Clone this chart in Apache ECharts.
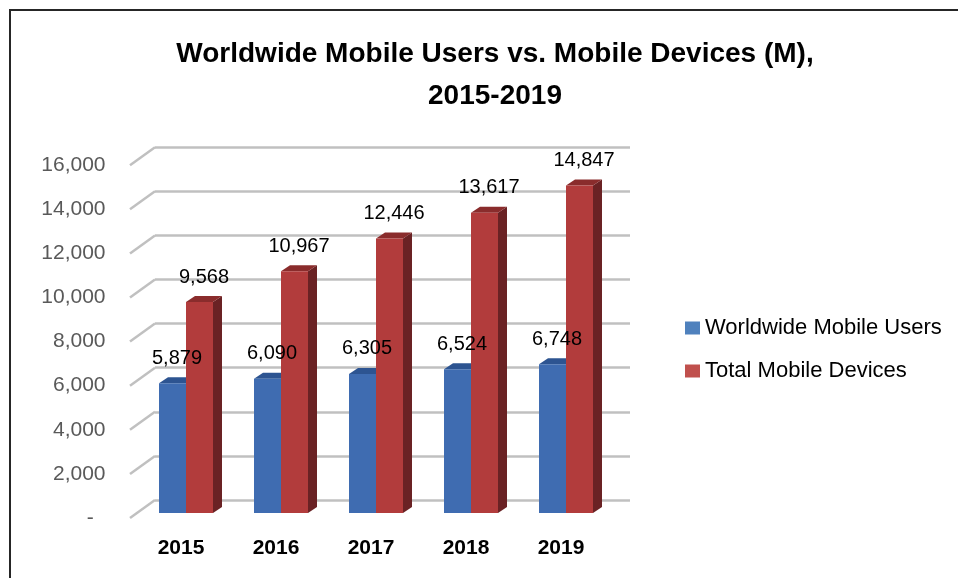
<!DOCTYPE html>
<html>
<head>
<meta charset="utf-8">
<script src="https://cdn.jsdelivr.net/npm/echarts@6/dist/echarts.min.js"></script>
<style>
  html, body { margin: 0; padding: 0; background: #fff; }
  #chart { width: 958px; height: 578px; }
</style>
</head>
<body>
<div id="chart"></div>
<script>
const years = ['2015', '2016', '2017', '2018', '2019'];
const usersValues = [5879, 6090, 6305, 6524, 6748];
const devicesValues = [9568, 10967, 12446, 13617, 14847];
const yTicks = [0, 2000, 4000, 6000, 8000, 10000, 12000, 14000, 16000];
const seriesNames = ['Worldwide Mobile Users', 'Total Mobile Devices'];

const BAR_W = 27;
const DEPTH_X = 9;
const DEPTH_Y = 6;
const FLOOR_DX = 25;
const FLOOR_DY = 18;

const faceColors = [
  { front: '#3f6cb1', top: '#2d5491', side: '#27467a' },
  { front: '#b23c3c', top: '#8a2c2c', side: '#6a2224' }
];

const fmt = (v) => v === 0 ? '-  ' : v.toLocaleString('en-US');

const chart = echarts.init(document.getElementById('chart'));

function barRender(sIdx) {
  return function (params, api) {
    const i = api.value(0);
    const v = api.value(1);
    const base = api.coord([i, 0]);
    const top = api.coord([i, v]);
    const x0 = base[0] + (sIdx === 0 ? -BAR_W : 0);
    const by = base[1], ty = top[1];
    const c = faceColors[sIdx];
    return {
      type: 'group',
      children: [
        { type: 'polygon', shape: { points: [[x0 + BAR_W, ty], [x0 + BAR_W + DEPTH_X, ty - DEPTH_Y], [x0 + BAR_W + DEPTH_X, by - DEPTH_Y], [x0 + BAR_W, by]] }, style: { fill: c.side } },
        { type: 'polygon', shape: { points: [[x0, ty], [x0 + BAR_W, ty], [x0 + BAR_W + DEPTH_X, ty - DEPTH_Y], [x0 + DEPTH_X, ty - DEPTH_Y]] }, style: { fill: c.top } },
        { type: 'rect', shape: { x: x0, y: ty, width: BAR_W, height: by - ty }, style: { fill: c.front } }
      ]
    };
  };
}

function labelRender(sIdx) {
  return function (params, api) {
    const i = api.value(0);
    const v = api.value(1);
    const base = api.coord([i, 0]);
    const top = api.coord([i, v]);
    const x0 = base[0] + (sIdx === 0 ? -BAR_W : 0);
    return {
      type: 'text',
      x: x0 + BAR_W / 2 + DEPTH_X / 2,
      y: top[1] - 25,
      style: {
        text: fmt(v),
        fill: '#000',
        font: '20px "Liberation Sans"',
        align: 'center',
        verticalAlign: 'middle'
      }
    };
  };
}

const option = {
  backgroundColor: '#fff',
  animation: false,
  title: {
    text: 'Worldwide Mobile Users vs. Mobile Devices (M),\n2015-2019',
    left: 490,
    textAlign: 'center',
    top: 28,
    textStyle: {
      fontFamily: 'Liberation Sans',
      fontWeight: 'bold',
      fontSize: 28,
      lineHeight: 42,
      color: '#000'
    }
  },
  legend: {
    orient: 'vertical',
    left: 680,
    top: 312,
    itemWidth: 15,
    itemHeight: 13,
    itemGap: 21,
    itemSpacing: 6,
    icon: 'rect',
    data: seriesNames,
    textStyle: { fontFamily: 'Liberation Sans', fontSize: 22, color: '#000' }
  },
  graphic: [
    { type: 'rect', shape: { x: 10, y: 10, width: 1000, height: 1000 }, style: { fill: 'none', stroke: '#262626', lineWidth: 2 }, z: 100 }
  ],
  grid: [
    { left: 155, right: 328, top: 147.2, bottom: 78 },
    { left: 133.5, width: 475, top: 165.2, bottom: 60 },
    { left: 138.5, width: 475, top: 160.2, bottom: 65 }
  ],
  xAxis: [
    { gridIndex: 0, type: 'value', min: 0, max: 1, show: false },
    {
      gridIndex: 1, type: 'category', data: years,
      axisLine: { show: false }, axisTick: { show: false },
      axisLabel: { margin: 20, fontFamily: 'Liberation Sans', fontWeight: 'bold', fontSize: 21, color: '#000' }
    },
    { gridIndex: 2, type: 'category', data: years, show: false }
  ],
  yAxis: [
    {
      gridIndex: 0, type: 'value', min: 0, max: 16000, interval: 2000,
      axisLine: { show: false }, axisTick: { show: false }, axisLabel: { show: false },
      splitLine: { lineStyle: { color: '#c0c0c0', width: 2.5 } }
    },
    {
      gridIndex: 1, type: 'value', min: 0, max: 16000, interval: 2000,
      axisLine: { show: false }, axisTick: { show: false }, splitLine: { show: false },
      axisLabel: { margin: 28, formatter: fmt, fontFamily: 'Liberation Sans', fontSize: 21, color: '#595959' }
    },
    { gridIndex: 2, type: 'value', min: 0, max: 16000, show: false }
  ],
  series: [
    {
      type: 'custom', name: 'floor', xAxisIndex: 0, yAxisIndex: 0,
      data: yTicks.map(v => [0, v]),
      renderItem: (params, api) => {
        const p = api.coord([0, api.value(1)]);
        return {
          type: 'line',
          shape: { x1: p[0] - FLOOR_DX, y1: p[1] + FLOOR_DY, x2: p[0], y2: p[1] },
          style: { stroke: '#c0c0c0', lineWidth: 2.5 }
        };
      },
      silent: true
    },
    {
      type: 'custom', name: seriesNames[0], xAxisIndex: 2, yAxisIndex: 2,
      itemStyle: { color: '#4f81bd' },
      data: usersValues.map((v, i) => [i, v]),
      renderItem: barRender(0), z: 3
    },
    {
      type: 'custom', name: seriesNames[1], xAxisIndex: 2, yAxisIndex: 2,
      itemStyle: { color: '#c0504d' },
      data: devicesValues.map((v, i) => [i, v]),
      renderItem: barRender(1), z: 4
    },
    {
      type: 'custom', name: 'usersLabels', xAxisIndex: 2, yAxisIndex: 2,
      data: usersValues.map((v, i) => [i, v]),
      renderItem: labelRender(0), z: 10, silent: true
    },
    {
      type: 'custom', name: 'devicesLabels', xAxisIndex: 2, yAxisIndex: 2,
      data: devicesValues.map((v, i) => [i, v]),
      renderItem: labelRender(1), z: 10, silent: true
    }
  ]
};

chart.setOption(option);
</script>
</body>
</html>
